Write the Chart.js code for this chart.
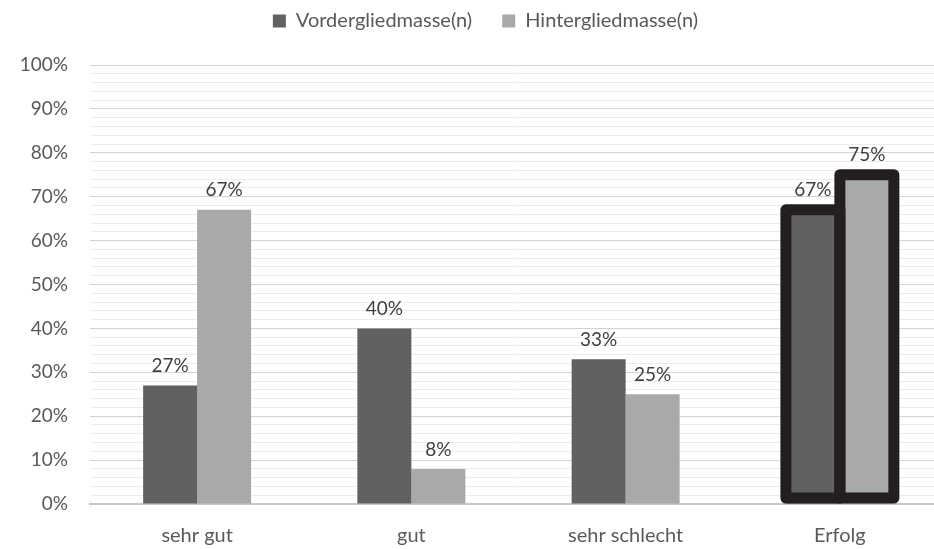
<!DOCTYPE html>
<html>
<head>
<meta charset="utf-8">
<script src="https://cdn.jsdelivr.net/npm/chart.js@4"></script>
<style>
html,body{margin:0;padding:0;background:#fff;overflow:hidden;}
#wrap{width:960px;height:549px;position:relative;}
</style>
</head>
<body>
<div id="wrap"><canvas id="c"></canvas></div>
<script>
const categories = ['sehr gut', 'gut', 'sehr schlecht', 'Erfolg'];
const seriesNames = ['Vordergliedmasse(n)', 'Hintergliedmasse(n)'];
const vorder = [27, 40, 33, 67];
const hinter = [67, 8, 25, 75];
const highlightIndex = 3;

const FONT = 'Lato, "Open Sans", sans-serif';
const LEGEND_TOP = -19;
const LEGEND_H = 84;
const LEGEND_SHIFT = 12;

const legendFitPlugin = {
  id: 'legendFit',
  beforeUpdate(chart) {
    const lg = chart.legend;
    if (lg && !lg._patched) {
      const orig = lg.fit;
      lg.fit = function () { orig.call(this); this.height = LEGEND_H; };
      lg._patched = true;
    }
  },
  afterLayout(chart) {
    const lg = chart.legend;
    if (lg) { lg.left += LEGEND_SHIFT; lg.right += LEGEND_SHIFT; }
  }
};

const outlinePlugin = {
  id: 'outline',
  afterDatasetsDraw(chart) {
    const ctx = chart.ctx;
    ctx.save();
    ctx.strokeStyle = '#231f20';
    ctx.lineWidth = 11;
    ctx.lineJoin = 'round';
    chart.data.datasets.forEach((ds, di) => {
      const el = chart.getDatasetMeta(di).data[highlightIndex];
      if (!el) return;
      const p = el.getProps(['x', 'y', 'base', 'width'], true);
      const left = p.x - p.width / 2;
      ctx.strokeRect(left, p.y, p.width, p.base - 5.5 - p.y);
    });
    ctx.restore();
  }
};

const labelPlugin = {
  id: 'valueLabels',
  afterDatasetsDraw(chart) {
    const ctx = chart.ctx;
    ctx.save();
    ctx.font = '19px ' + FONT;
    ctx.fillStyle = '#404040';
    ctx.textAlign = 'center';
    ctx.textBaseline = 'bottom';
    chart.data.datasets.forEach((ds, di) => {
      chart.getDatasetMeta(di).data.forEach((el, i) => {
        const p = el.getProps(['x', 'y'], true);
        ctx.fillText(ds.data[i] + '%', p.x, p.y - 10);
      });
    });
    ctx.restore();
  }
};

new Chart(document.getElementById('c'), {
  type: 'bar',
  data: {
    labels: categories,
    datasets: [
      { label: seriesNames[0], data: vorder, backgroundColor: '#616163', borderWidth: 0,
        categoryPercentage: 0.504, barPercentage: 1 },
      { label: seriesNames[1], data: hinter, backgroundColor: '#a8a9ab', borderWidth: 0,
        categoryPercentage: 0.504, barPercentage: 1 }
    ]
  },
  options: {
    responsive: true,
    maintainAspectRatio: false,
    animation: false,
    layout: { padding: { top: LEGEND_TOP, left: 0, right: 13, bottom: 0 } },
    plugins: {
      tooltip: { enabled: false },
      legend: {
        position: 'top',
        labels: {
          font: { family: FONT, size: 20 },
          color: '#595959',
          boxWidth: 13,
          boxHeight: 13,
          padding: 30
        }
      }
    },
    scales: {
      x: {
        grid: { display: false, drawTicks: false },
        border: { display: true, color: '#c8c8c8', width: 2 },
        ticks: { font: { family: FONT, size: 20 }, color: '#595959', padding: 20 },
        afterFit(scale) { scale.height = 45; }
      },
      y: {
        min: 0,
        max: 100,
        border: { display: false },
        grid: {
          drawTicks: false,
          color: (c) => (c.tick && c.tick.value % 10 === 0) ? '#d3d3d3' : '#ececec',
          lineWidth: 1
        },
        ticks: {
          stepSize: 2,
          autoSkip: false,
          padding: 22,
          font: { family: FONT, size: 19 },
          color: '#595959',
          callback: (v) => (v % 10 === 0 ? v + '%' : '')
        },
        afterFit(scale) { scale.width = 90; }
      }
    }
  },
  plugins: [legendFitPlugin, outlinePlugin, labelPlugin]
});
</script>
</body>
</html>
